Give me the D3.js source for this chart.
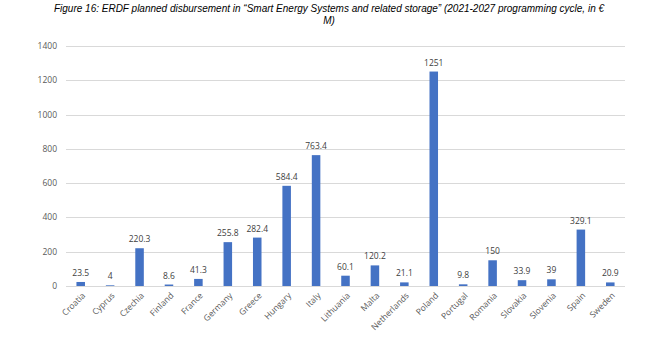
<!DOCTYPE html>
<html>
<head>
<meta charset="utf-8">
<script src="https://cdn.jsdelivr.net/npm/d3@7"></script>
<style>
  body { margin: 0; background: #fff; }
  svg { display: block; }
</style>
</head>
<body>
<svg id="chart" width="655" height="338"></svg>
<script>
// country names and planned disbursement, in EUR million
const countries = ["Croatia","Cyprus","Czechia","Finland","France","Germany","Greece","Hungary","Italy","Lithuania","Malta","Netherlands","Poland","Portugal","Romania","Slovakia","Slovenia","Spain","Sweden"]
const values = [23.5, 4, 220.3, 8.6, 41.3, 255.8, 282.4, 584.4, 763.4, 60.1, 120.2, 21.1, 1251, 9.8, 150, 33.9, 39, 329.1, 20.9]
const yTicks = [0, 200, 400, 600, 800, 1000, 1200, 1400]

const svg = d3.select("#chart")

// title, two lines as in the source document
const title = svg.append("text")
  .attr("text-anchor", "middle")
  .attr("font-family", "Liberation Sans, Arial, sans-serif")
  .attr("font-style", "italic")
  .attr("font-size", 10)
  .attr("fill", "#000")
title.append("tspan").attr("x", 329).attr("y", 12)
  .text("Figure 16: ERDF planned disbursement in \u201cSmart Energy Systems and related storage\u201d (2021-2027 programming cycle, in \u20ac")
title.append("tspan").attr("x", 329).attr("y", 24).text("M)")

const plot = {left: 66, right: 625, top: 46, bottom: 286}

const x = d3.scaleBand()
  .domain(countries)
  .range([plot.left, plot.right])
  .paddingInner(0.71)
  .paddingOuter(0.355)

const y = d3.scaleLinear()
  .domain([0, 1400])
  .range([plot.bottom, plot.top])

// gridlines
svg.append("g")
  .selectAll("line")
  .data(yTicks.filter(t => t > 0))
  .join("line")
  .attr("x1", plot.left).attr("x2", plot.right)
  .attr("y1", d => Math.round(y(d)) + 0.5).attr("y2", d => Math.round(y(d)) + 0.5)
  .attr("stroke", "#d9d9d9")
  .attr("stroke-width", 1)

// y axis labels
svg.append("g")
  .selectAll("text")
  .data(yTicks)
  .join("text")
  .attr("x", plot.left - 9)
  .attr("y", d => y(d) + 3)
  .attr("text-anchor", "end")
  .attr("font-family", "Open Sans, Calibri, sans-serif")
  .attr("font-size", 8.5)
  .attr("fill", "#595959")
  .text(d => d)

// bars
svg.append("g")
  .selectAll("rect")
  .data(countries)
  .join("rect")
  .attr("x", d => x(d))
  .attr("width", x.bandwidth())
  .attr("y", (d, i) => y(values[i]))
  .attr("height", (d, i) => plot.bottom - y(values[i]))
  .attr("fill", "#4472c4")

// baseline
svg.append("line")
  .attr("x1", plot.left).attr("x2", plot.right)
  .attr("y1", plot.bottom + 0.5).attr("y2", plot.bottom + 0.5)
  .attr("stroke", "#d9d9d9")

// value labels
svg.append("g")
  .selectAll("text")
  .data(countries)
  .join("text")
  .attr("x", d => x(d) + x.bandwidth() / 2)
  .attr("y", (d, i) => y(values[i]) - 6)
  .attr("text-anchor", "middle")
  .attr("font-family", "Open Sans, Calibri, sans-serif")
  .attr("font-size", 8.5)
  .attr("fill", "#404040")
  .text((d, i) => values[i])

// category labels, rotated
svg.append("g")
  .selectAll("text")
  .data(countries)
  .join("text")
  .attr("transform", d => `translate(${x(d) + x.bandwidth() / 2 + 3},${plot.bottom + 8}) rotate(-45)`)
  .attr("text-anchor", "end")
  .attr("dy", "0.35em")
  .attr("font-family", "Open Sans, Calibri, sans-serif")
  .attr("font-size", 8.5)
  .attr("fill", "#595959")
  .text(d => d)
</script>
</body>
</html>
